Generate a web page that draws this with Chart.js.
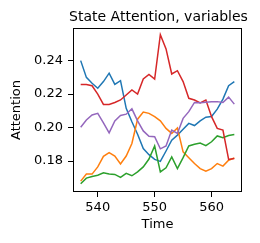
<!DOCTYPE html>
<html>
<head>
<meta charset="utf-8">
<script src="https://cdn.jsdelivr.net/npm/chart.js@4/dist/chart.umd.min.js"></script>
<style>
  html, body { margin: 0; padding: 0; background: #fff; }
  canvas { display: block; }
</style>
</head>
<body>
<canvas id="grafik" width="260" height="243"></canvas>
<script>
const waktu = [537, 538, 539, 540, 541, 542, 543, 544, 545, 546, 547, 548, 549, 550,
  551, 552, 553, 554, 555, 556, 557, 558, 559, 560, 561, 562, 563, 564];

const seriBiru = [0.2400, 0.2300, 0.2265, 0.2235, 0.2275, 0.2325, 0.2258, 0.2280, 0.2115, 0.2035,
  0.1960, 0.1875, 0.1838, 0.1810, 0.1798, 0.1860, 0.1925, 0.1955, 0.1990, 0.2025,
  0.2012, 0.2040, 0.2062, 0.2066, 0.2110, 0.2170, 0.2250, 0.2275];
const seriOranye = [0.1680, 0.1722, 0.1722, 0.1765, 0.1828, 0.1850, 0.1830, 0.1782, 0.1830, 0.1905,
  0.2050, 0.2093, 0.2085, 0.2065, 0.2040, 0.1995, 0.1965, 0.1998, 0.1855, 0.1820,
  0.1785, 0.1755, 0.1740, 0.1755, 0.1785, 0.1770, 0.1805, 0.1818];
const seriHijau = [0.1664, 0.1698, 0.1708, 0.1715, 0.1730, 0.1722, 0.1720, 0.1702, 0.1726, 0.1712,
  0.1735, 0.1765, 0.1812, 0.1890, 0.1735, 0.1760, 0.1825, 0.1755, 0.1820, 0.1890,
  0.1900, 0.1908, 0.1892, 0.1915, 0.1950, 0.1940, 0.1953, 0.1958];
const seriMerah = [0.2258, 0.2258, 0.2250, 0.2200, 0.2138, 0.2138, 0.2150, 0.2165, 0.2195, 0.2225,
  0.2200, 0.2290, 0.2318, 0.2290, 0.2555, 0.2470, 0.2320, 0.2340, 0.2275, 0.2175,
  0.2165, 0.2148, 0.2165, 0.2065, 0.1995, 0.1985, 0.1810, 0.1815];
const seriUngu = [0.2002, 0.2045, 0.2075, 0.2085, 0.2028, 0.1968, 0.2040, 0.2072, 0.2080, 0.2112,
  0.2040, 0.1980, 0.1948, 0.1945, 0.1873, 0.1890, 0.1985, 0.1965, 0.2055, 0.2095,
  0.2150, 0.2148, 0.2152, 0.2155, 0.2155, 0.2150, 0.2182, 0.2140];

const tickX = [540, 550, 560];
const tickY = [0.18, 0.20, 0.22, 0.24];

const semuaSeri = [seriBiru, seriOranye, seriHijau, seriMerah, seriUngu];
const warna = ["#1f77b4", "#ff7f0e", "#2ca02c", "#d62728", "#9467bd"];

const fontTeks = "DejaVu Sans";

// teks judul dan label sumbu, plus kotak di sekeliling area plot
const teksTambahan = {
  id: "teksTambahan",
  afterDraw(chart) {
    const ctx = chart.ctx;
    const a = chart.chartArea;
    const tengahX = (a.left + a.right) / 2;
    ctx.save();
    ctx.strokeStyle = "#000";
    ctx.lineWidth = 1;
    ctx.strokeRect(Math.round(a.left) + 0.5, Math.round(a.top) + 0.5,
      Math.round(a.right - a.left) - 1, Math.round(a.bottom - a.top) - 1);

    ctx.fillStyle = "#000";
    ctx.textAlign = "center";
    ctx.textBaseline = "alphabetic";
    ctx.font = "14px '" + fontTeks + "'";
    ctx.fillText("State Attention, variables", tengahX + 1, 21);

    ctx.font = "13px '" + fontTeks + "'";
    ctx.fillText("Time", tengahX, 228);

    ctx.translate(17, (a.top + a.bottom) / 2);
    ctx.rotate(-Math.PI / 2);
    ctx.textBaseline = "middle";
    ctx.fillText("Attention", 0, 0);
    ctx.restore();
  }
};

const ctx = document.getElementById("grafik").getContext("2d");

new Chart(ctx, {
  type: "line",
  data: {
    datasets: semuaSeri.map((seri, i) => ({
      data: seri.map((v, j) => ({ x: waktu[j], y: v })),
      borderColor: warna[i],
      backgroundColor: warna[i],
      borderWidth: 1.5,
      pointRadius: 0,
      tension: 0,
      fill: false,
      order: semuaSeri.length - i
    }))
  },
  options: {
    responsive: false,
    animation: false,
    devicePixelRatio: 1,
    layout: { padding: { top: 28, right: 18, left: 0, bottom: 0 } },
    plugins: {
      legend: { display: false },
      tooltip: { enabled: false },
      title: { display: false }
    },
    scales: {
      x: {
        type: "linear",
        min: 535.65,
        max: 565.35,
        afterBuildTicks: s => { s.ticks = tickX.map(v => ({ value: v })); },
        afterFit: s => { s.height = 51; },
        ticks: {
          color: "#000",
          font: { family: fontTeks, size: 13 },
          padding: 3,
          maxRotation: 0,
          autoSkip: false,
          callback: v => String(v)
        },
        grid: { drawOnChartArea: false, tickLength: 5, color: "#000" },
        border: { display: false }
      },
      y: {
        min: 0.1615,
        max: 0.2595,
        afterBuildTicks: s => { s.ticks = tickY.map(v => ({ value: v })); },
        afterFit: s => { s.width = 73; },
        ticks: {
          color: "#000",
          font: { family: fontTeks, size: 13 },
          padding: 5,
          autoSkip: false,
          callback: v => v.toFixed(2)
        },
        grid: { drawOnChartArea: false, tickLength: 5, color: "#000" },
        border: { display: false }
      }
    }
  },
  plugins: [teksTambahan]
});
</script>
</body>
</html>
